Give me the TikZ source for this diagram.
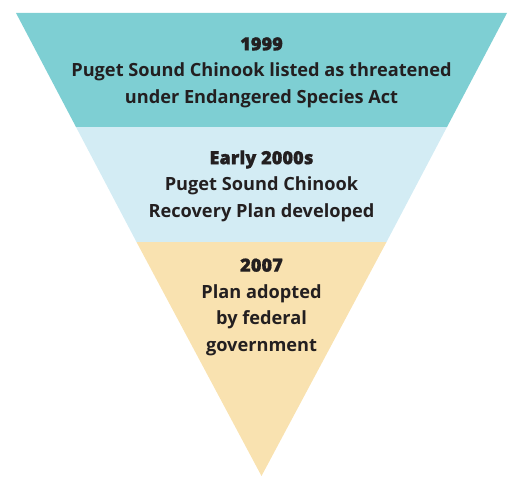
\documentclass[tikz,border=0pt]{standalone}
\usepackage{fontspec}
\setmainfont{Open Sans}
\newfontfamily\yearfont{Open Sans}[UprightFont={* Bold},FakeBold=0.9]
\definecolor{bandteal}{HTML}{7ECFD3}
\definecolor{bandblue}{HTML}{D3ECF4}
\definecolor{bandtan}{HTML}{F9E2B0}
\definecolor{inkdark}{HTML}{231F20}
\newcommand\yearline[1]{{\yearfont #1}}
\begin{document}
\begin{tikzpicture}[x=1pt,y=-1pt,
  label/.style={align=center,font=\fontsize{18.2}{26.5}\selectfont\bfseries,text=inkdark,inner sep=0pt}]
\useasboundingbox (0,0) rectangle (508,476);
% funnel bands: left edge x = 16 + 0.5265*(y-13), right edge symmetric about 261.5
\fill[bandteal] (16,13) -- (507,13) -- (447,127) -- (76,127) -- cycle;
\fill[bandblue] (76,127) -- (447,127) -- (386.5,242) -- (136.5,242) -- cycle;
\fill[bandtan] (136.5,242) -- (386.5,242) -- (261.5,476) -- cycle;
\node[label] (t1) at (261.5,72.5) {\yearline{1999}\\Puget Sound Chinook listed as threatened\\under Endangered Species Act};
\node[label] (t2) at (261.5,186) {\yearline{Early 2000s}\\Puget Sound Chinook\\Recovery Plan developed};
\node[label] (t3) at (261.5,307) {\yearline{2007}\\Plan adopted\\by federal\\government};
\end{tikzpicture}
\end{document}
